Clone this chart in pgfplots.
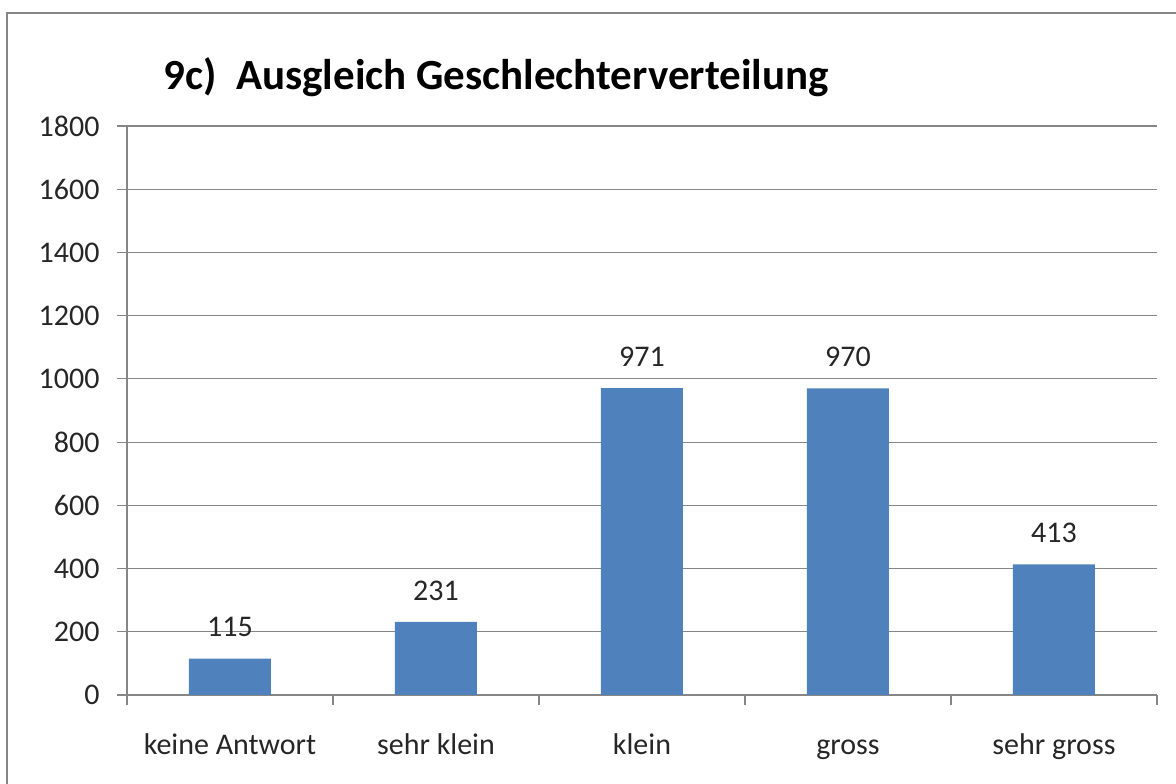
\documentclass[border=0pt]{standalone}
\usepackage{pgfplots}
\pgfplotsset{compat=1.18}
\usepackage{fontspec}
\setmainfont{Carlito}
\definecolor{barblue}{HTML}{4F81BD}
\definecolor{gridgray}{HTML}{868686}
\begin{document}
\begin{tikzpicture}[x=1pt,y=1pt]
\useasboundingbox (0,0) rectangle (1176,784);
\draw[gridgray, line width=2.5pt] (7,-20) -- (7,771) -- (1200,771);
\node[anchor=west, font=\fontsize{43}{50}\selectfont\bfseries] at (160,707) {9c)\ \ Ausgleich Geschlechterverteilung};
\begin{axis}[
  at={(127pt,89pt)}, anchor=origin,
  scale only axis, width=1030pt, height=569pt,
  xmin=0.5, xmax=5.5, ymin=0, ymax=1800,
  ytick={0,200,...,1800},
  xtick={0.5,1.5,2.5,3.5,4.5,5.5},
  xticklabels={},
  extra x ticks={1,2,3,4,5},
  extra x tick labels={keine Antwort, sehr klein, klein, gross, sehr gross},
  extra x tick style={major tick length=0pt, grid=none},
  axis x line*=bottom, axis y line*=left,
  axis line style={gridgray, line width=1.2pt, -},
  ymajorgrids, grid style={gridgray, line width=1.2pt},
  tick align=outside,
  major tick length=10pt,
  tick style={gridgray, line width=1.2pt},
  ticklabel style={font=\fontsize{30}{36}\selectfont, text=black!85},
  /pgf/number format/assume math mode=true,
  /pgf/number format/1000 sep={},
  xticklabel style={yshift=-49pt, text height=0.72em, text depth=0.22em},
  yticklabel style={xshift=-14pt},
  nodes near coords,
  nodes near coords style={font=\fontsize{30}{36}\selectfont, text=black!85, yshift=18pt},
]
\addplot[ybar, bar width=82pt, fill=barblue, draw=none] coordinates {(1,115) (2,231) (3,971) (4,970) (5,413)};
\end{axis}
\end{tikzpicture}
\end{document}
